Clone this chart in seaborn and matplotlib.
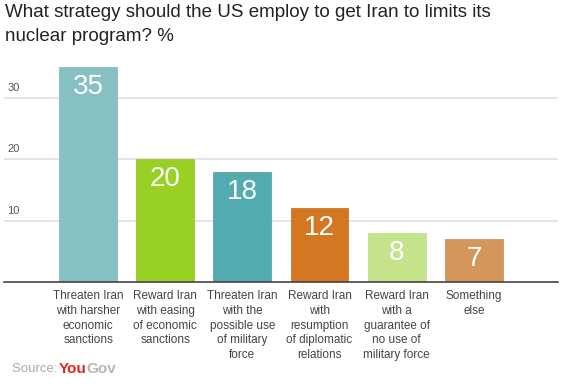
import matplotlib
matplotlib.use("Agg")
import matplotlib.pyplot as plt
import seaborn as sns
import pandas as pd

categories = [
    "Threaten Iran\nwith harsher\neconomic\nsanctions",
    "Reward Iran\nwith easing\nof economic\nsanctions",
    "Threaten Iran\nwith the\npossible use\nof military\nforce",
    "Reward Iran\nwith\nresumption\nof diplomatic\nrelations",
    "Reward Iran\nwith a\nguarantee of\nno use of\nmilitary force",
    "Something\nelse",
]
values = [35, 20, 18, 12, 8, 7]
colors = ["#86c0c3", "#98d023", "#52abb0", "#d57622", "#c4e38a", "#d4965a"]
y_ticks = [10, 20, 30]
title = "What strategy should the US employ to get Iran to limits its\nnuclear program? %"

sns.set_theme(style="white")
plt.rcParams["font.family"] = ["Liberation Sans", "DejaVu Sans"]

df = pd.DataFrame({"category": categories, "value": values})

fig = plt.figure(figsize=(5.8, 3.86), dpi=100)
ax = fig.add_axes([0.0069, 0.2694, 0.955, 0.572])

sns.barplot(data=df, x="category", y="value", hue="category", palette=colors,
            width=0.75, legend=False, ax=ax, linewidth=0.6,
            edgecolor=None, saturation=1)
for patch, c in zip(ax.patches, colors):
    patch.set_edgecolor(sns.desaturate(c, 0.9))

ax.set_xlim(-1.09, 6.09)
ax.set_ylim(0, 36)
ax.set_xlabel("")
ax.set_ylabel("")

# gridlines
for t in y_ticks:
    ax.axhline(t, color="#e3e3e3", lw=1.3, zorder=0)
ax.set_yticks([])
for t in y_ticks:
    ax.text(0.006, t + 0.8, str(t), transform=ax.get_yaxis_transform(),
            ha="left", va="bottom", fontsize=8, color="#555555")

for s in ["top", "right", "left"]:
    ax.spines[s].set_visible(False)
ax.spines["bottom"].set_color("#444444")
ax.spines["bottom"].set_linewidth(1.2)

ax.tick_params(axis="x", length=0, pad=6)
for lbl in ax.get_xticklabels():
    lbl.set_fontsize(8.5)
    lbl.set_color("#444444")
    lbl.set_linespacing(1.3)
    lbl.set_va("top")

# value labels
for patch, v in zip(ax.patches, values):
    ax.annotate(str(v), (patch.get_x() + patch.get_width() / 2, v),
                xytext=(0, -5), textcoords="offset points",
                ha="center", va="top", color="white", fontsize=20)

fig.text(0.008, 0.99, title, ha="left", va="top", fontsize=13.5,
         color="#222222", linespacing=1.55)

# source line
renderer = fig.canvas.get_renderer()
y_src = 1 - 369 / 386
t1 = fig.text(12 / 580, y_src, "Source: ", ha="left", va="center",
              fontsize=9.5, color="#aaaaaa")
bb = t1.get_window_extent(renderer)
t2 = fig.text(bb.x1 / fig.bbox.width - 0.004, y_src, "You", ha="left",
              va="center", fontsize=11, color="#e0261b", fontweight="bold")
bb2 = t2.get_window_extent(renderer)
fig.text(bb2.x1 / fig.bbox.width, y_src, "Gov", ha="left",
         va="center", fontsize=11, color="#b5b5b5", fontweight="bold")

fig.savefig("out.png", dpi=100)
